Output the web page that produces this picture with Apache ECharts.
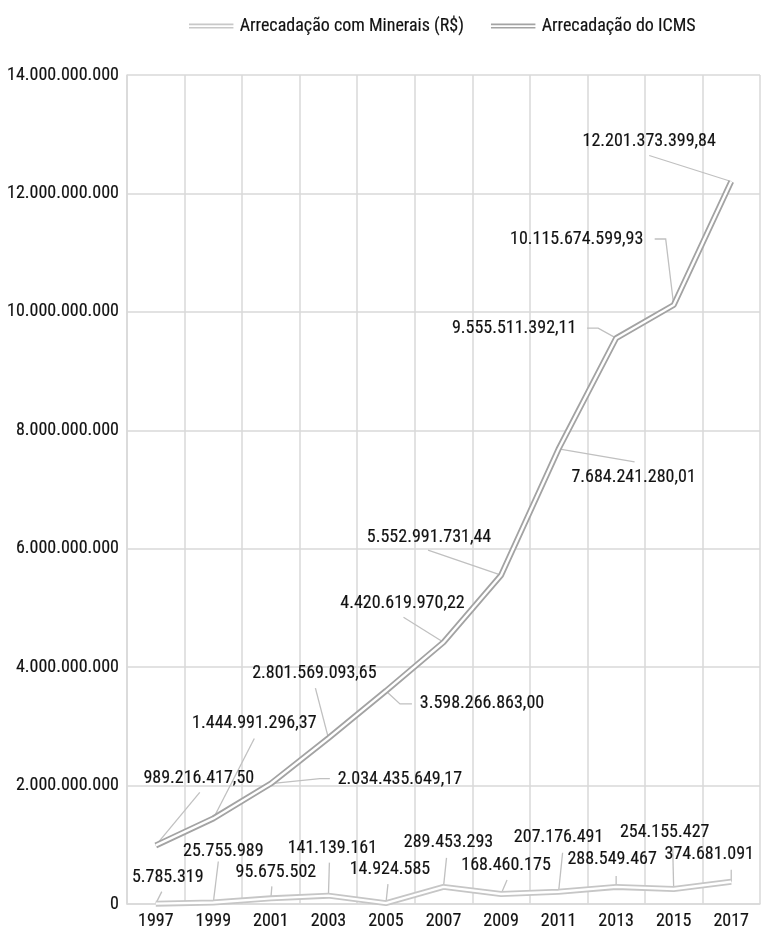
<!DOCTYPE html>
<html>
<head>
<meta charset="utf-8">
<script src="https://cdn.jsdelivr.net/npm/echarts@6/dist/echarts.min.js"></script>
<style>
html,body{margin:0;padding:0;background:#fff;}
#c{width:762px;height:937px;}
</style>
</head>
<body>
<div id="c"></div>
<script>
const years = ['1997','1999','2001','2003','2005','2007','2009','2011','2013','2015','2017'];
const minerais = [5785319, 25755989, 95675502, 141139161, 14924585, 289453293, 168460175, 207176491, 288549467, 254155427, 374681091];
const icms = [989216417.50, 1444991296.37, 2034435649.17, 2801569093.65, 3598266863.00, 4420619970.22, 5552991731.44, 7684241280.01, 9555511392.11, 10115674599.93, 12201373399.84];
const nameMin = 'Arrecadação com Minerais (R$)';
const nameIcms = 'Arrecadação do ICMS';

// label centre offsets (px) relative to each point: layout only
const offIcms = [[43,-67],[41,-95],[129,-4],[-14,-65],[96,13],[-41,-39],[-72,-38],[75,29],[-102,-10],[-97,-66],[-82,-40]];
const offMin = [[12,-26],[10,-51],[5,-26],[4,-47],[4,-34],[5,-44],[5,-29],[0,-54],[-4,-27],[-9,-56],[-22,-27]];
// leader line points (px) relative to each point: [elbow?, end]
const leadIcms = [[[44,-53]],[[41,-80]],[[49,-5],[59,-5]],[[-13,-50]],[[14,13],[26,13]],[[-40,-25]],[[-73,-25]],[[76,13]],[[-18,-10],[-29,-10]],[[-8,-66],[-19,-66]],[[-82,-26]]];
const leadMin = [[[6,-12]],[[5,-41]],[[1,-12]],[[1,-33]],[[2,-19]],[[3,-29]],[[6,-14]],[[4,-39]],[[0,-11]],[[-1,-42]],[[0,-12]]];

const FONT = '"Roboto Condensed", "Liberation Sans Narrow", sans-serif';
const TXT = '#111';
const TB = {textBorderColor:'#111', textBorderWidth:0.15};

function fmtInt(v){
  return Math.round(v).toString().replace(/\B(?=(\d{3})+(?!\d))/g,'.');
}
function fmtDec(v){
  const s = v.toFixed(2).split('.');
  return s[0].replace(/\B(?=(\d{3})+(?!\d))/g,'.') + ',' + s[1];
}

function layoutFn(offs){
  return function(p){
    const o = offs[p.dataIndex];
    const cx = p.rect.x + p.rect.width/2;
    const cy = p.rect.y + p.rect.height/2;
    return {x: cx + o[0], y: cy + o[1], align:'center', verticalAlign:'middle'};
  };
}

const chart = echarts.init(document.getElementById('c'), null, {renderer:'canvas'});
const icon = 'path://M0,0H48V1.8H0Z M0,3.6H48V5.4H0Z';
chart.setOption({
  animation:false,
  textStyle:{fontFamily:FONT},
  legend:{
    data:[
      {name:nameMin, icon:icon, itemStyle:{color:'#c8c8c8'}},
      {name:nameIcms, icon:icon, itemStyle:{color:'#a3a3a3'}}
    ],
    top:12, left:184,
    itemWidth:47, itemHeight:5, itemGap:27,
    textStyle:Object.assign({fontFamily:FONT, fontSize:18, color:TXT}, TB)
  },
  grid:{left:127, right:2, top:75, bottom:33, containLabel:false},
  xAxis:{
    type:'category', data:years, boundaryGap:true,
    axisLine:{show:true, lineStyle:{color:'#d9d9d9', width:1.5}},
    axisTick:{show:false},
    axisLabel:Object.assign({fontFamily:FONT, fontSize:18, color:TXT, margin:8}, TB),
    splitLine:{show:true, lineStyle:{color:'#d9d9d9', width:1.5}}
  },
  yAxis:{
    type:'value', min:0, max:14000000000, interval:2000000000,
    axisLine:{show:true, lineStyle:{color:'#d9d9d9', width:1.5}},
    axisTick:{show:false},
    axisLabel:Object.assign({fontFamily:FONT, fontSize:18, color:TXT, margin:8, formatter:fmtInt}, TB),
    splitLine:{show:true, lineStyle:{color:'#d9d9d9', width:1.5}}
  },
  series:[
    {
      name:nameMin, type:'line', data:minerais, color:'#c8c8c8',
      symbol:'circle', symbolSize:1, itemStyle:{color:'rgba(0,0,0,0)'},
      lineStyle:{color:'#c6c6c6', width:6}, z:2,
      label:Object.assign({show:true, position:'top', distance:0, fontFamily:FONT, fontSize:18, color:TXT,
        formatter:function(p){return fmtInt(p.value);}}, TB),
      labelLayout:layoutFn(offMin)
    },
    {
      name:'_m', type:'line', data:minerais, symbol:'none', silent:true,
      lineStyle:{color:'#ffffff', width:2.4}, z:3
    },
    {
      name:nameIcms, type:'line', data:icms, color:'#a3a3a3',
      symbol:'circle', symbolSize:1, itemStyle:{color:'rgba(0,0,0,0)'},
      lineStyle:{color:'#a3a3a3', width:6}, z:4,
      label:Object.assign({show:true, position:'top', distance:0, fontFamily:FONT, fontSize:18, color:TXT,
        formatter:function(p){return fmtDec(p.value);}}, TB),
      labelLayout:layoutFn(offIcms)
    },
    {
      name:'_i', type:'line', data:icms, symbol:'none', silent:true,
      lineStyle:{color:'#ffffff', width:2.4}, z:5
    }
  ]
});

// leader lines, anchored on the library's pixel position of each point
const leaders = [];
function addLeaders(seriesIndex, values, leads){
  values.forEach(function(v, j){
    const p = chart.convertToPixel({seriesIndex: seriesIndex}, [j, v]);
    const pts = [[p[0], p[1]]];
    leads[j].forEach(function(q){ pts.push([p[0] + q[0], p[1] + q[1]]); });
    leaders.push({type:'polyline', silent:true, z:1,
      shape:{points:pts}, style:{stroke:'#c0c0c0', lineWidth:1.3, fill:null}});
  });
}
addLeaders(0, minerais, leadMin);
addLeaders(2, icms, leadIcms);
chart.setOption({graphic:{elements:leaders}});
</script>
</body>
</html>
